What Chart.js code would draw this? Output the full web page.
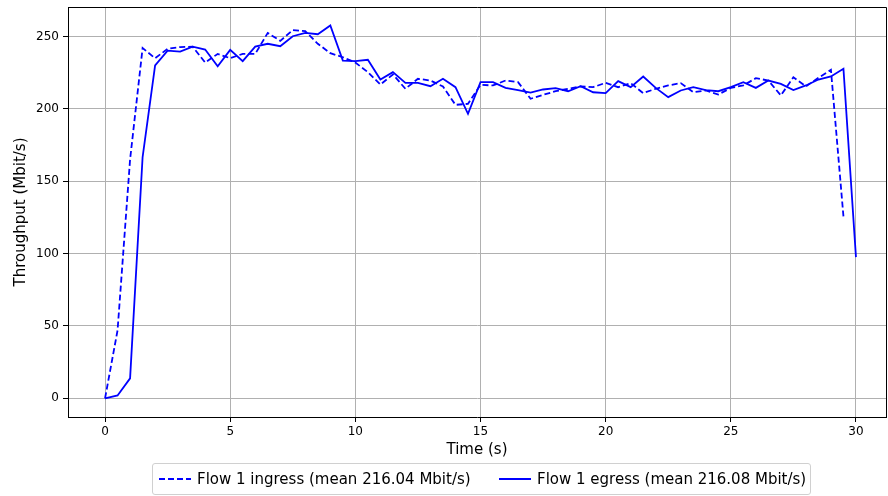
<!DOCTYPE html>
<html>
<head>
<meta charset="utf-8">
<script src="https://cdn.jsdelivr.net/npm/chart.js@4"></script>
<style>
  html, body { margin: 0; padding: 0; background: #fff; }
  #wrap { position: relative; width: 888px; height: 496px; }
  #legend {
    position: absolute; left: 152px; top: 463px; width: 657px; height: 30px;
    border: 1px solid #d0d0d0; border-radius: 3px; background: #fff;
    font-family: "DejaVu Sans", sans-serif; font-size: 15px; color: #000;
  }
  .item { position: absolute; top: 0; height: 30px; line-height: 30px; white-space: nowrap; }
  .item svg { position: absolute; top: 10px; left: 0; }
  .item span { position: absolute; left: 38px; top: 0; }
</style>
</head>
<body>
<div id="wrap">
  <canvas id="chart" width="888" height="496"></canvas>
  <div id="legend"></div>
</div>
<script>
// Time in seconds
const times = [0, 0.5, 1, 1.5, 2, 2.5, 3, 3.5, 4, 4.5, 5, 5.5, 6, 6.5, 7, 7.5, 8, 8.5, 9, 9.5,
  10, 10.5, 11, 11.5, 12, 12.5, 13, 13.5, 14, 14.5, 15, 15.5, 16, 16.5, 17, 17.5, 18, 18.5, 19, 19.5,
  20, 20.5, 21, 21.5, 22, 22.5, 23, 23.5, 24, 24.5, 25, 25.5, 26, 26.5, 27, 27.5, 28, 28.5, 29, 29.5, 30];

// Throughput (Mbit/s)
const ingress = [0, 47, 165, 242, 235, 241.5, 242.7, 243, 232, 238, 235, 238, 238, 252.5, 247, 254.5, 253.7, 245, 238.5, 235.7,
  232, 225.4, 216.8, 223.8, 213.9, 220.8, 219.6, 215.5, 202.8, 203.5, 216.6, 216.2, 219.6, 218.5, 207, 209.7, 212.2, 213.9, 215.5, 215,
  218, 215, 217.8, 210.9, 213.9, 216.2, 217.8, 211.5, 212.7, 209.9, 214.5, 216.2, 221.2, 219.6, 209.3, 221.9, 215.5, 221.5, 227, 125.7];

const egress = [0, 2, 13.8, 166.6, 230, 240.3, 239.6, 243, 241, 229.5, 240.8, 233, 243, 245, 243.3, 250.2, 252.5, 251.6, 257.6, 233.4,
  233, 233.9, 220.3, 225.4, 218, 218, 215.7, 220.8, 215, 196.6, 218.5, 218.5, 214.5, 213, 211.3, 213.4, 214.3, 212.2, 215.7, 211.5,
  210.9, 219.2, 215, 222.4, 214.5, 208.1, 212.7, 215, 213, 212.2, 215, 218.5, 214.5, 219.6, 217.3, 213, 216.2, 220.3, 222.4, 227.7, 97.6];

const seriesLabels = ['Flow 1 ingress (mean 216.04 Mbit/s)', 'Flow 1 egress (mean 216.08 Mbit/s)'];
const yTicks = [0, 50, 100, 150, 200, 250];
const xTicks = [0, 5, 10, 15, 20, 25, 30];

const toPoints = vals => vals.map((v, i) => ({ x: times[i], y: v }));

const font = 'DejaVu Sans';
const dash = [6, 3];

// top and right spines
const frame = {
  id: 'frame',
  afterDraw(chart) {
    const { ctx, chartArea: a } = chart;
    ctx.save();
    ctx.strokeStyle = '#000';
    ctx.lineWidth = 1;
    ctx.beginPath();
    ctx.moveTo(a.left, a.top + 0.5);
    ctx.lineTo(a.right + 0.5, a.top + 0.5);
    ctx.lineTo(a.right + 0.5, a.bottom);
    ctx.stroke();
    ctx.restore();
  }
};

new Chart(document.getElementById('chart'), {
  type: 'line',
  data: {
    datasets: [
      {
        label: seriesLabels[0],
        data: toPoints(ingress),
        borderColor: '#0000ff',
        borderWidth: 1.8,
        borderDash: dash,
        pointRadius: 0,
        tension: 0,
        fill: false
      },
      {
        label: seriesLabels[1],
        data: toPoints(egress),
        borderColor: '#0000ff',
        borderWidth: 1.8,
        pointRadius: 0,
        tension: 0,
        fill: false
      }
    ]
  },
  options: {
    responsive: false,
    animation: false,
    layout: { padding: { left: 0, top: 7, right: 2, bottom: 37 } },
    plugins: { legend: { display: false }, tooltip: { enabled: false } },
    scales: {
      x: {
        type: 'linear',
        min: -1.48,
        max: 31.2,
        afterBuildTicks: s => { s.ticks = xTicks.map(v => ({ value: v })); },
        afterFit: s => { s.height = 42; s.paddingLeft = 0; s.paddingRight = 0; },
        grid: { color: '#b0b0b0', lineWidth: 1, tickLength: 5, tickColor: '#000' },
        border: { color: '#000', width: 1 },
        ticks: { color: '#000', padding: 3, font: { family: font, size: 12 } },
        title: { display: true, text: 'Time (s)', color: '#000', padding: 0, font: { family: font, size: 15 } }
      },
      y: {
        min: -12.9,
        max: 270.4,
        afterBuildTicks: s => { s.ticks = yTicks.map(v => ({ value: v })); },
        afterFit: s => { s.width = 68; s.paddingTop = 0; s.paddingBottom = 0; },
        grid: { color: '#b0b0b0', lineWidth: 1, tickLength: 5, tickColor: '#000' },
        border: { color: '#000', width: 1 },
        ticks: { color: '#000', padding: 4, font: { family: font, size: 12 } },
        title: { display: true, text: 'Throughput (Mbit/s)', color: '#000', padding: { top: 12, bottom: 0 }, font: { family: font, size: 15 } }
      }
    }
  },
  plugins: [frame]
});

// legend below the chart
const legend = document.getElementById('legend');
const itemLeft = [6, 346];
seriesLabels.forEach((label, i) => {
  const item = document.createElement('div');
  item.className = 'item';
  item.style.left = itemLeft[i] + 'px';
  const da = i === 0 ? ' stroke-dasharray="' + dash.join(' ') + '"' : '';
  item.innerHTML = '<svg width="32" height="10"><line x1="0" y1="5" x2="32" y2="5" stroke="#0000ff" stroke-width="2"' + da + '/></svg><span></span>';
  item.querySelector('span').textContent = label;
  legend.appendChild(item);
});
</script>
</body>
</html>
